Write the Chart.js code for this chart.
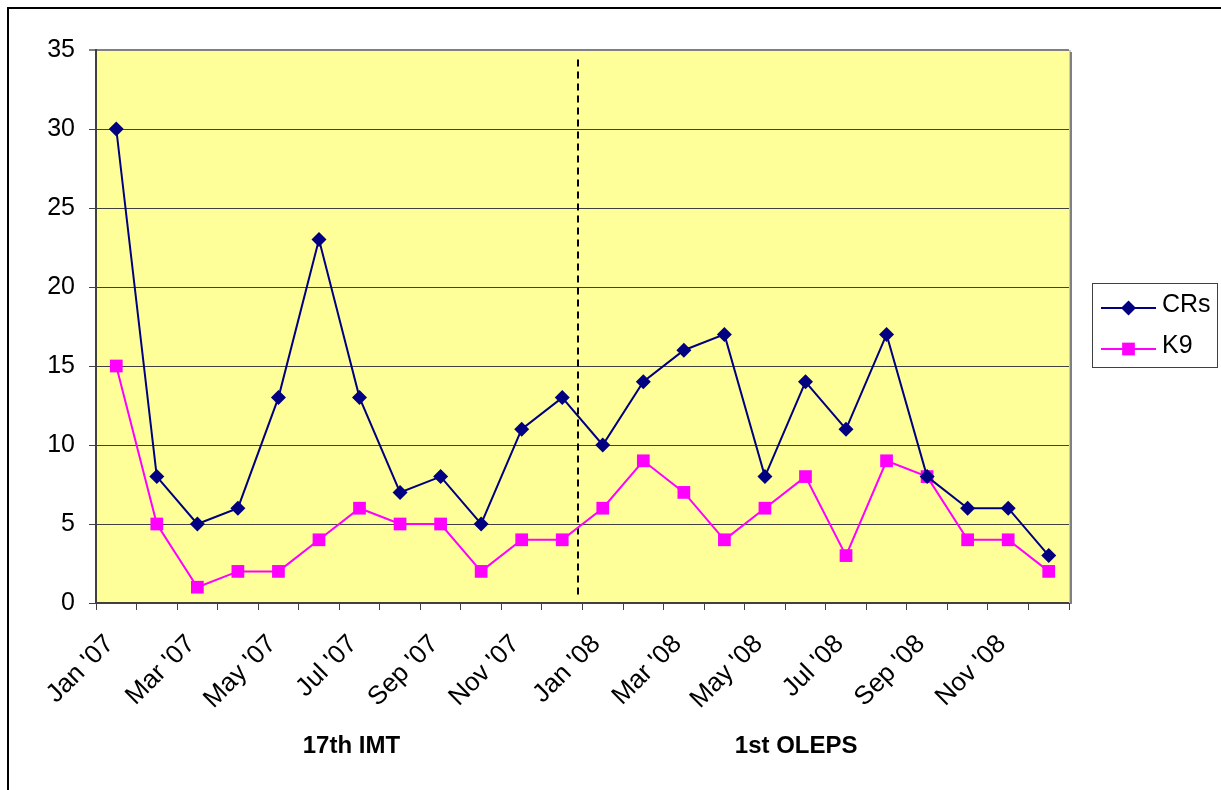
<!DOCTYPE html>
<html>
<head>
<meta charset="utf-8">
<title>CRs / K9</title>
<script src="https://cdn.jsdelivr.net/npm/chart.js@4.4.1/dist/chart.umd.min.js"></script>
<style>
  html, body { margin: 0; padding: 0; background: #fff; }
  #wrap { position: relative; width: 1221px; height: 790px; overflow: hidden; }
  #frame {
    position: absolute; left: 7px; top: 7px; width: 1400px; height: 1000px;
    border-left: 2px solid #000; border-top: 2px solid #000;
  }
  #chart { position: absolute; left: 0; top: 0; }
</style>
</head>
<body>
<div id="wrap">
  <div id="frame"></div>
  <canvas id="chart" width="1221" height="790"></canvas>
</div>
<script>
// Monthly values, Jan '07 - Dec '08
const months = [
    "Jan '07", "Feb '07", "Mar '07", "Apr '07", "May '07", "Jun '07",
    "Jul '07", "Aug '07", "Sep '07", "Oct '07", "Nov '07", "Dec '07",
    "Jan '08", "Feb '08", "Mar '08", "Apr '08", "May '08", "Jun '08",
    "Jul '08", "Aug '08", "Sep '08", "Oct '08", "Nov '08", "Dec '08"
];
const crs = [30, 8, 5, 6, 13, 23, 13, 7, 8, 5, 11, 13, 10, 14, 16, 17, 8, 14, 11, 17, 8, 6, 6, 3];
const k9 = [15, 5, 1, 2, 2, 4, 6, 5, 5, 2, 4, 4, 6, 9, 7, 4, 6, 8, 3, 9, 8, 4, 4, 2];
const groupLabels = ['17th IMT', '1st OLEPS'];
const groupCenters = [6.3, 17.27];   // in month units along the x axis

Chart.defaults.font.family = '"Liberation Sans", Arial, sans-serif';
Chart.defaults.color = '#000';

const toPoints = values => values.map((v, i) => ({ x: i + 0.5, y: v }));

/**
 * Yellow plot area, grey frame, dashed period divider
 */
const plotDecor = {
    id: 'plotDecor',
    beforeDraw(chart) {
        const { ctx, chartArea: a } = chart;
        ctx.save();
        ctx.fillStyle = '#FFFF99';
        ctx.fillRect(a.left, a.top, a.width, a.height);
        ctx.restore();
    },
    beforeDatasetsDraw(chart) {
        const { ctx, scales } = chart;
        const x = Math.round(scales.x.getPixelForValue(11.9));
        ctx.save();
        ctx.strokeStyle = '#000';
        ctx.lineWidth = 2;
        ctx.setLineDash([7, 5]);
        ctx.beginPath();
        ctx.moveTo(x, scales.y.getPixelForValue(34.4));
        ctx.lineTo(x, scales.y.getPixelForValue(0.25));
        ctx.stroke();
        ctx.restore();
    },
    afterDraw(chart) {
        const { ctx, chartArea: a, scales } = chart;
        ctx.save();
        // right edge of the plot area with a light shadow
        ctx.fillStyle = '#c8c8c8';
        ctx.fillRect(a.right, a.top, 2, a.height);
        ctx.fillStyle = '#808080';
        ctx.fillRect(a.right + 1, a.top + 2, 2, a.height - 1);

        // period labels under the axis
        ctx.fillStyle = '#000';
        ctx.font = 'bold 24px "Liberation Sans", Arial, sans-serif';
        ctx.textAlign = 'center';
        ctx.textBaseline = 'alphabetic';
        groupLabels.forEach((label, i) => {
            ctx.fillText(label, scales.x.getPixelForValue(groupCenters[i]), 753);
        });

        // legend: line + marker samples
        const box = { left: 1092, top: 283, width: 125, height: 84 };
        ctx.strokeStyle = '#404040';
        ctx.lineWidth = 1;
        ctx.strokeRect(box.left + 0.5, box.top + 0.5, box.width, box.height);
        ctx.font = '25px "Liberation Sans", Arial, sans-serif';
        ctx.textAlign = 'left';
        ctx.textBaseline = 'middle';
        chart.data.datasets.forEach((ds, i) => {
            const y = box.top + 25 + i * 41;
            const x0 = box.left + 9, x1 = box.left + 64, xm = (x0 + x1) / 2;
            ctx.strokeStyle = ds.borderColor;
            ctx.lineWidth = ds.borderWidth;
            ctx.beginPath();
            ctx.moveTo(x0, y);
            ctx.lineTo(x1, y);
            ctx.stroke();
            ctx.fillStyle = ds.pointBackgroundColor;
            ctx.beginPath();
            if (ds.pointStyle === 'rectRot') {
                const r = ds.pointRadius;
                ctx.moveTo(xm, y - r);
                ctx.lineTo(xm + r, y);
                ctx.lineTo(xm, y + r);
                ctx.lineTo(xm - r, y);
                ctx.closePath();
            } else {
                const s = ds.pointRadius * Math.SQRT1_2;
                ctx.rect(xm - s, y - s, 2 * s, 2 * s);
            }
            ctx.fill();
            ctx.fillStyle = '#000';
            ctx.fillText(ds.label, box.left + 70, y - 3);
        });
        ctx.restore();
    }
};

new Chart(document.getElementById('chart'), {
    type: 'line',
    data: {
        datasets: [{
            label: 'CRs',
            data: toPoints(crs),
            borderColor: '#000080',
            backgroundColor: '#000080',
            pointBackgroundColor: '#000080',
            pointBorderColor: '#000080',
            borderWidth: 2,
            pointStyle: 'rectRot',
            pointRadius: 7.5,
            pointBorderWidth: 0,
            tension: 0
        }, {
            label: 'K9',
            data: toPoints(k9),
            borderColor: '#FF00FF',
            backgroundColor: '#FF00FF',
            pointBackgroundColor: '#FF00FF',
            pointBorderColor: '#FF00FF',
            borderWidth: 2,
            pointStyle: 'rect',
            pointRadius: 9,
            pointBorderWidth: 0,
            tension: 0
        }]
    },
    options: {
        responsive: false,
        animation: false,
        devicePixelRatio: 1,
        layout: { padding: { left: 0, top: 50, right: 152, bottom: 0 } },
        plugins: {
            legend: { display: false },
            tooltip: { enabled: false }
        },
        scales: {
            x: {
                type: 'linear',
                min: 0,
                max: 24,
                ticks: {
                    stepSize: 1,
                    autoSkip: false,
                    minRotation: 45,
                    maxRotation: 45,
                    padding: 19,
                    labelOffset: 14,
                    font: { size: 26 },
                    callback: v => (v % 2 === 0 && months[v]) ? months[v] : ''
                },
                grid: { drawOnChartArea: false, color: '#404040', tickLength: 7 },
                border: { color: '#404040', width: 2 },
                afterFit: scale => { scale.height = 187; }
            },
            y: {
                min: 0,
                max: 35,
                ticks: { stepSize: 5, padding: 14, font: { size: 25 } },
                grid: {
                    color: c => (c.tick && c.tick.value === 35) ? '#808080' : '#404040',
                    lineWidth: c => (c.tick && c.tick.value === 35) ? 2 : 1,
                    tickLength: 7
                },
                border: { color: '#404040', width: 2 },
                afterFit: scale => { scale.width = 96; }
            }
        }
    },
    plugins: [plotDecor]
});
</script>
</body>
</html>
